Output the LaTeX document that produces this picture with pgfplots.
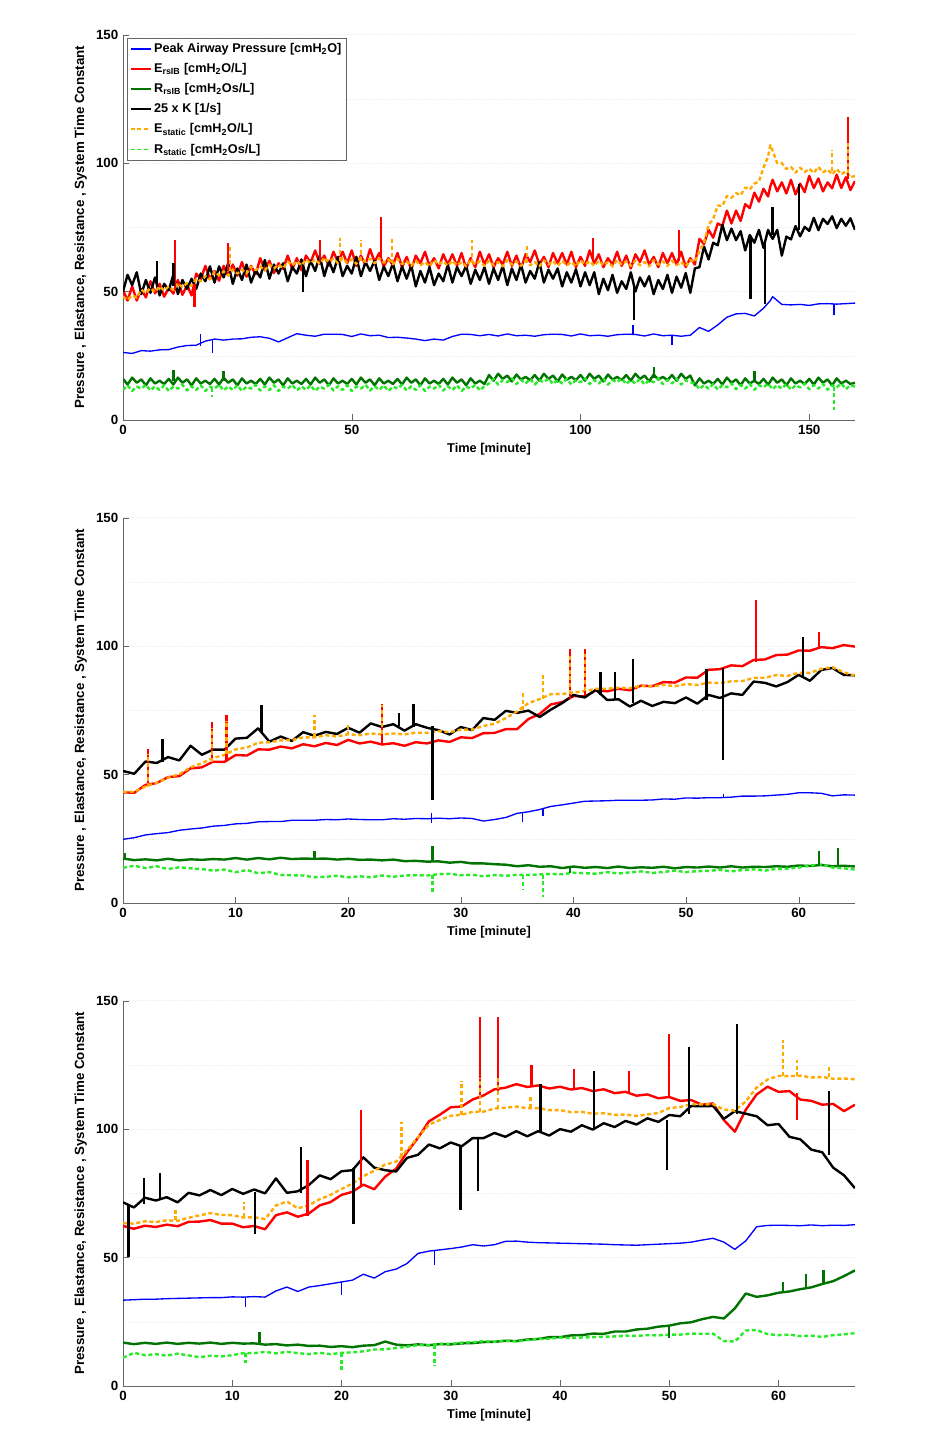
\documentclass[border=0pt]{standalone}
\usepackage{fontspec}
\setmainfont{Liberation Sans}
\usepackage{pgfplots}
\usepackage{pgfplotstable}
\pgfplotsset{compat=1.18}

\definecolor{pblue}{RGB}{0,0,255}
\definecolor{ered}{RGB}{255,0,0}
\definecolor{rgreen}{RGB}{0,115,0}
\definecolor{estor}{RGB}{255,170,0}
\definecolor{rsgreen}{RGB}{40,235,40}

% panel 1: peak airway pressure
\pgfplotstableread{
t P
0 26.3
2 25.9
4 27.0
6 26.8
8 27.3
10 27.4
12 28.4
14 29.0
16 29.1
18 30.7
20 31.5
22 31.1
24 31.5
26 31.6
28 32.2
30 32.4
32 31.8
34 30.4
36 32.0
38 33.6
40 33.0
42 32.6
44 33.4
46 33.4
48 33.3
50 32.5
52 33.5
54 32.8
56 33.0
58 32.1
60 32.2
62 31.9
64 31.5
66 30.9
68 31.5
70 31.1
72 32.5
74 33.4
76 33.3
78 32.8
80 33.3
82 32.7
84 33.5
86 32.8
88 33.0
90 32.6
92 33.2
94 33.4
96 33.3
98 32.7
100 33.5
102 32.8
104 33.0
106 32.6
108 33.2
110 33.4
112 33.3
114 32.7
116 33.5
118 32.8
120 33.0
122 32.6
124 33.0
126 36.0
128 34.5
130 37.0
132 40.0
134 41.3
136 41.5
138 40.5
140 43.5
141.5 46.5
142 48.0
144 45.0
146 44.8
148 45.0
150 44.6
152 45.2
154 45.3
156 45.1
158 45.3
160 45.5
}\dataAp

% panel 1: noisy series
\pgfplotstableread{
t E R K Es Rs
0 50.5 16 50 48 11.7
1 46.5 13.8 56.5 46.7 13.5
2 52 16.5 52.5 48.5 11.3
3 46.5 14.5 57.5 47.6 13
4 51 15.8 49 50.7 12.2
5 47.7 13.5 54.5 49.5 13.7
6 54 16.2 49.5 51.3 11.5
7 49.3 14.2 55.5 49.8 13.1
8 53 15.3 48.5 52 11.7
9 48 14 53 50.4 13.5
10 51.5 16 50.5 52 11.3
11 49.2 13.8 56.5 50.6 13
12 54.5 16.5 49 53.2 12.2
13 48.7 14.5 54.5 51.7 13.7
14 52.5 15.8 51 53.3 11.5
15 48.5 13.5 55 52.2 13.1
16 57 16.2 51 55 11.7
17 54.8 14.2 57 54 13.5
18 60 15.3 54 56 11.3
19 54.8 14 59.8 54.8 13
20 58 16 53.5 57.7 12.2
21 54.2 13.8 59.8 56.3 13.7
22 60 16.5 55.5 57.8 11.5
23 56.3 14.5 61 56.2 13.1
24 60.5 15.8 53 58.5 11.7
25 56.2 13.5 59 57 13.5
26 61.5 16.2 54.5 58.5 11.3
27 55.8 14.2 60.5 57 13
28 60 15.3 53.5 59.7 12.2
29 56.7 14 58.3 58.3 13.7
30 63 16 55.5 59.8 11.5
31 58.3 13.8 62.3 58.2 13.1
32 62 16.5 55 60.5 11.7
33 57.2 14.5 60.5 59 13.5
34 61 15.8 57 60.5 11.3
35 58.8 13.5 61 59 13
36 64 16.2 54 61.7 12.2
37 58.7 14.2 59.5 60.3 13.7
38 63 15.3 57 61.8 11.5
39 58.3 14 62.5 60.2 13.1
40 64 16 56 62.5 11.7
41 61.2 13.8 62 61 13.5
42 66 16.5 58 62.5 11.3
43 60.8 14.5 64 60.8 13
44 64 15.8 56 63.2 12.2
45 60 13.5 62 61.5 13.7
46 65.5 16.2 57.5 62.8 11.5
47 61.5 14.2 63.5 61 13.1
48 65.5 15.3 56 63 11.7
49 61 14 60 61.2 13.5
50 66 16 57 62.5 11.3
51 60 13.8 63.5 60.8 13
52 64 16.5 56 63.2 12.2
53 60.5 14.5 61.5 61.5 13.7
54 66.5 15.8 58 62.8 11.5
55 61.5 13.5 62 61 13.1
56 65 16.2 54.5 63 11.7
57 59.8 14.2 59.7 61.2 13.5
58 63 15.3 56 62.5 11.3
59 60.2 14 61 60.6 13
60 65 16 54 62.7 12.2
61 59.5 13.8 59.8 60.7 13.7
62 63.5 16.5 55 61.8 11.5
63 58.5 14.5 60.2 60 13.1
64 64 15.8 52 62 11.7
65 61 13.5 58 60.2 13.5
66 65.5 16.2 53.5 61.5 11.3
67 60 14.2 59.5 59.8 13
68 63 15.3 52.5 62.2 12.2
69 59 14 57 60.5 13.7
70 64.5 16 54 61.8 11.5
71 60.5 13.8 60.5 60 13.1
72 64.5 16.5 53.5 62 11.7
73 60 14.5 59.5 60.2 13.5
74 65 15.8 56 61.5 11.3
75 59 13.5 60 59.8 13
76 63 16.2 53 62.2 12.2
77 59.5 14.2 58.5 60.5 13.7
78 65.5 15.3 54.5 61.8 11.5
79 60.5 14 59.5 60 13.1
80 64.5 17.5 53 62 14.2
81 59.5 15.3 59 60.2 16
82 63 18 54.5 61.5 13.8
83 60.5 16 60 59.8 15.5
84 65.5 17.3 52.5 62.2 14.7
85 60 15 59 60.5 16.2
86 64 17.7 54.5 61.8 14
87 59 15.7 60.5 60 15.6
88 64.5 16.8 53.5 62 14.2
89 61.5 15.5 58 60.2 16
90 66 17.5 55 61.5 13.8
91 60.5 15.3 61.5 59.8 15.5
92 63.5 18 53.5 62.2 14.7
93 59.5 16 58.5 60.5 16.2
94 65 17.3 55 61.8 14
95 61 15 59 60 15.6
96 65 17.7 52 62 14.2
97 60.5 15.7 57.5 60.2 16
98 65.5 16.8 53.5 61.5 13.8
99 59.5 15.5 58.7 59.8 15.5
100 63.5 17.5 52 62.2 14.7
101 60 15.3 57.5 60.5 16.2
102 66 18 52.5 61.8 14
103 61 16 57.5 60 15.6
104 64.5 17.3 49 62 14.2
105 59.5 15 55 60.2 16
106 63 17.7 50.5 61.5 13.8
107 60.5 15.7 56.5 59.8 15.5
108 65.5 16.8 49.5 62.2 14.7
109 60 15.5 54 60.5 16.2
110 64 17.5 51 61.8 14
111 59 15.3 57.5 60 15.6
112 64.5 18 50 62 14.2
113 61.5 16 55.5 60.2 16
114 66 17.3 52 61.5 13.8
115 60.5 15 56 59.8 15.5
116 63.5 17.7 49 62.2 14.7
117 59.5 15.7 54.5 60.5 16.2
118 65 16.8 51 61.8 14
119 61 15.5 56.5 60 15.6
120 65 17.5 49.5 62 14.2
121 60.5 15.3 55.8 60.2 16
122 65.5 18 51.5 61.5 13.8
123 59.5 16 57.2 59.8 15.5
124 63 17.3 49.5 62.2 14.7
125 60.5 13.5 59 61.5 14.2
126 70.5 16.2 59.5 65.8 12
127 68.5 14.2 67.5 69 13.6
128 74 15.3 62.5 76 12.2
129 71 14 69 78.2 14
130 76.5 16 68 83.5 11.8
131 75.5 13.8 76 83.3 13.5
132 81.5 16.5 70 87.2 12.7
133 76.5 14.5 74.5 86.5 14.2
134 81.5 15.8 70 88.3 12
135 77.5 13.5 73.5 87.5 13.6
136 84 16.2 66 90.5 12.2
137 82.5 14.2 72 89.7 14
138 88.5 15.3 69 92 11.8
139 85 14 74 92.8 13.5
140 90 16 67 98.2 12.7
141 87 13.8 74 102.5 14.2
141.5 91 15 72 107 13
142 93.5 16.5 70.5 104.8 12
143 89 14.5 74 100 13.6
144 92.5 15.8 64 100 12.2
145 88.2 13.5 71.4 97.7 14
146 93.5 16.2 70.3 98.5 11.8
147 87.8 14.2 75.5 96.3 13.5
148 92 15.3 71.5 98.2 12.7
149 88.7 14 75.2 96.5 14.2
150 95 16 73.6 97.8 12
151 90.3 13.8 78.7 96.2 13.6
152 94 16.5 73.9 98.5 12.2
153 89 14.5 78.3 96.4 14
154 92.5 15.8 76.3 97.5 11.8
155 90.2 13.5 79.3 95.6 13.5
156 95.5 16.2 74.7 97.7 12.7
157 90.3 14.2 78.3 95.7 14.2
158 94.5 15.3 75.6 96.8 12
159 89.5 14 78.5 94.5 13.6
160 93 14.5 74 95 13
}\dataA

% panel 2
\pgfplotstableread{
t P E R K Es Rs
0 24.8 43.1 17.3 51.4 43.3 13.7
1 25.4 42.9 16.7 50.3 43.2 14.5
2 26.5 46.0 17.0 55.1 45.4 13.6
3 27.0 46.7 16.6 54.5 46.8 14.3
4 27.4 49.0 17.2 56.8 48.8 13.2
5 28.3 49.4 16.6 55.5 50.1 13.9
6 28.8 52.4 17.0 61.2 52.8 13.5
7 29.2 52.8 16.8 57.7 54.4 13.2
8 29.9 55.0 17.1 59.7 56.5 12.6
9 30.2 54.9 16.9 59.7 57.6 13.0
10 30.8 57.6 17.5 64.0 59.8 12.0
11 31.0 57.4 16.9 64.3 60.5 12.8
12 31.6 59.8 17.5 68.0 62.4 11.6
13 31.7 59.7 17.0 62.8 62.6 12.0
14 31.7 60.9 17.6 64.8 63.3 10.9
15 32.2 60.2 17.1 63.1 63.4 10.8
16 32.2 61.8 17.3 66.5 64.5 10.7
17 32.2 61.0 17.2 65.1 64.5 10.0
18 32.5 62.3 17.3 66.6 65.3 10.2
19 32.4 61.5 16.9 65.8 64.8 10.6
20 32.7 63.5 17.2 68.2 65.7 10.0
21 32.5 62.1 16.8 66.3 65.3 10.4
22 32.4 62.8 16.9 69.9 66.0 10.0
23 32.4 61.7 16.6 68.5 65.6 10.7
24 32.8 62.2 16.9 69.6 66.0 10.2
25 32.6 61.2 16.3 67.1 65.6 10.7
26 32.9 62.6 16.4 69.6 66.3 10.8
27 32.8 62.1 16.1 68.2 66.2 10.7
28 33.0 63.3 16.2 67.3 66.9 11.2
29 32.8 62.7 15.7 65.6 66.5 11.4
30 33.1 64.5 16.0 68.5 67.5 10.8
31 32.9 64.2 15.4 67.3 67.5 11.0
32 31.9 66.1 15.4 72.0 68.9 10.4
33 32.5 66.2 15.1 71.3 69.8 10.9
34 33.3 67.7 14.9 74.8 72.0 10.6
35 34.9 67.7 14.3 74.0 74.6 11.0
36 35.5 71.6 14.7 74.9 77.8 10.9
37 36.4 73.6 14.1 72.4 79.4 11.1
38 37.6 77.3 14.3 75.3 81.3 11.3
39 38.2 78.2 13.6 77.8 81.3 11.2
40 38.9 80.5 14.2 81.0 82.0 11.8
41 39.6 80.4 13.7 80.0 82.4 11.6
42 39.7 82.8 14.0 83.0 83.4 11.4
43 39.8 82.4 13.6 79.0 83.4 12.0
44 40.0 83.4 14.2 79.3 83.8 11.5
45 40.0 82.8 13.6 76.5 83.6 11.9
46 40.0 84.6 13.9 78.7 84.5 12.3
47 40.1 84.4 13.7 76.7 84.3 11.7
48 40.5 86.0 14.1 78.3 84.9 12.1
49 40.4 85.8 13.5 77.8 84.4 12.6
50 40.9 87.8 14.0 80.0 85.2 12.0
51 40.8 87.7 13.8 77.6 84.9 12.4
52 41.0 90.8 14.2 81.0 85.8 12.5
53 41.0 91.0 13.8 79.8 85.6 12.9
54 41.2 92.5 14.3 81.6 86.3 12.3
55 41.6 92.2 13.8 81.0 86.4 12.8
56 41.6 94.6 14.1 86.2 87.6 13.1
57 41.7 94.8 14.0 85.7 87.7 12.6
58 42.0 96.5 14.3 84.3 88.7 13.3
59 42.3 96.7 14.1 86.0 88.4 13.4
60 42.9 98.3 14.6 88.8 89.6 13.8
61 42.9 98.2 14.4 86.5 89.6 14.6
62 42.7 99.6 14.8 90.7 91.1 15.0
63 41.7 99.2 14.3 91.5 91.8 13.8
64 42.1 100.4 14.5 88.8 89.8 13.5
65 42.0 99.8 14.2 88.6 88.5 13.0
}\dataB

% panel 3
\pgfplotstableread{
t P E R K Es Rs
0 33.4 62.3 16.9 71.5 63.4 11.0
1 33.6 61.2 16.3 69.5 63.2 12.9
2 33.8 62.4 16.8 73.3 64.1 12.0
3 33.8 61.9 16.4 72.2 63.8 12.4
4 34.0 62.8 16.9 73.5 64.5 11.8
5 34.1 62.2 16.4 71.5 64.3 12.6
6 34.2 63.9 16.8 75.2 65.5 11.9
7 34.3 64.0 16.5 74.2 66.4 11.2
8 34.4 64.6 16.9 76.3 67.3 11.8
9 34.4 63.2 16.4 74.3 66.6 11.5
10 34.7 63.2 16.8 76.7 66.5 12.0
11 34.6 61.8 16.5 74.8 65.6 12.8
12 34.8 62.3 16.6 76.5 65.7 12.8
13 34.6 61.0 16.1 75.0 65.0 13.3
14 37.0 66.5 16.3 80.8 70.3 12.7
15 38.5 67.6 15.8 75.2 71.8 13.3
16 36.8 65.9 16.1 75.8 69.2 12.8
17 38.5 67.1 15.6 78.2 70.3 12.4
18 39.1 70.3 15.7 82.0 72.7 12.9
19 39.8 71.6 15.2 80.5 74.4 12.4
20 40.5 74.4 15.5 83.6 76.7 12.9
21 41.2 75.6 15.1 84.0 78.8 13.1
22 43.5 78.4 15.7 89.0 81.7 13.5
23 42.0 76.6 15.9 85.0 83.8 14.2
24 44.5 81.5 17.3 84.0 86.2 14.3
25 45.5 84.6 16.1 83.5 87.3 14.8
26 47.7 91.0 15.8 88.8 91.9 15.3
27 51.6 96.6 16.2 90.0 96.8 15.9
28 52.5 103.0 15.9 94.0 101.7 15.8
29 53.0 105.6 16.3 92.5 103.6 16.4
30 53.5 108.5 16.2 94.8 105.2 16.4
31 54.1 108.8 16.6 93.3 105.6 16.9
32 55.0 111.5 16.7 96.5 106.7 17.0
33 54.5 113.1 17.1 96.5 106.8 17.5
34 55.0 115.5 17.2 98.5 108.0 17.2
35 56.3 116.1 17.6 97.0 108.3 17.7
36 56.4 117.5 17.5 99.2 108.8 17.3
37 56.0 116.4 18.1 97.2 108.1 17.9
38 55.8 117.0 18.3 99.2 108.2 18.3
39 55.7 115.8 19.0 97.5 107.4 18.4
40 55.6 116.5 19.0 100.0 107.4 18.9
41 55.5 115.4 19.7 99.0 106.6 18.6
42 55.4 116.0 19.8 101.5 106.7 18.9
43 55.3 114.8 20.4 99.8 106.0 19.0
44 55.2 115.5 20.3 102.3 106.2 19.2
45 55.0 114.0 21.2 100.8 105.5 19.3
46 54.9 114.5 21.2 103.2 105.7 19.6
47 54.8 113.0 22.0 101.8 105.1 19.5
48 55.0 113.5 22.3 104.2 105.7 19.8
49 55.2 112.0 23.1 102.8 106.3 19.7
50 55.4 112.5 23.5 105.5 108.2 20.0
51 55.6 111.0 24.4 105.0 108.6 20.0
52 56.0 111.3 24.8 109.0 109.7 20.4
53 56.8 109.5 26.0 108.9 109.6 20.3
54 57.5 110.0 26.9 109.0 109.7 20.4
55 56.0 103.5 26.3 104.0 107.6 17.5
56 53.2 99.0 30.2 107.0 107.2 17.3
57 56.5 107.5 36.0 106.0 110.8 21.6
58 62.0 113.5 34.7 105.0 116.2 21.8
59 62.5 116.5 35.3 101.5 119.3 20.2
60 62.6 114.5 36.3 102.0 120.7 19.8
61 62.5 114.8 36.8 97.0 120.6 20.0
62 62.4 111.5 37.7 96.0 120.8 19.4
63 62.7 111.0 38.4 92.0 120.1 19.6
64 62.4 109.5 39.7 91.0 120.3 19.1
65 62.6 109.8 40.8 85.0 119.6 19.8
66 62.5 107.0 42.8 82.0 119.7 20.1
67 62.8 109.5 45.0 77.0 119.4 20.6
}\dataC

\pgfplotsset{
  pP/.style={color=pblue, line width=1pt},
  pE/.style={color=ered, line width=1.8pt},
  pR/.style={color=rgreen, line width=1.8pt},
  pK/.style={color=black, line width=1.8pt},
  pEs/.style={color=estor, line width=1.8pt, dash pattern=on 3pt off 2pt},
  pRs/.style={color=rsgreen, line width=1.8pt, dash pattern=on 3pt off 2pt},
  panel/.style={
    scale only axis, width=549pt, height=289pt,
    anchor=south west,
    axis lines*=left,
    axis line style={gray!80!black, line width=0.5pt},
    ymin=0, ymax=150, xmin=0,
    ytick={0,50,100,150},
    minor ytick={25,75,125},
    ymajorgrids, yminorgrids,
    major grid style={gray!22, dotted},
    minor grid style={gray!22, dotted},
    tick align=inside,
    major tick length=4.5pt,
    minor tick length=0pt,
    tick style={gray!80!black},
    /pgf/number format/assume math mode=true,
    ticklabel style={font=\bfseries\fontsize{10}{12}\selectfont, text=black},
    xlabel={Time [minute]},
    xlabel style={font=\bfseries\fontsize{9.6}{11}\selectfont},
    ylabel={Pressure , Elastance, Resistance , System Time Constant},
    ylabel style={font=\bfseries\fontsize{10}{12}\selectfont},
    every axis plot/.append style={line join=round},
    unbounded coords=jump,
  },
}

\begin{document}
\begin{tikzpicture}
\useasboundingbox (0,0) rectangle (708.75pt,1077pt);

% ---------------- panel 1
\begin{axis}[panel, at={(92.25pt,762pt)}, xmax=160, xtick={0,50,100,150},
  legend style={at={(0.005,0.992)}, anchor=north west, draw=gray!80!black, line width=0.4pt,
    fill=white, font=\bfseries\fontsize{9.5}{11}\selectfont, row sep=2.7pt,
    inner xsep=2pt, inner ysep=2pt},
  legend cell align=left,
  legend image code/.code={\draw[#1] (0pt,0pt) -- (15pt,0pt);},
  legend image post style={line width=1.4pt}]
\addplot[pP] table[x=t,y=P]{\dataAp};
\addlegendentry{Peak Airway Pressure [cmH\textsubscript{2}O]}
\addplot[pE] table[x=t,y=E]{\dataA};
\addlegendentry{E\textsubscript{rsIB} [cmH\textsubscript{2}O/L]}
\addplot[pR] table[x=t,y=R]{\dataA};
\addlegendentry{R\textsubscript{rsIB} [cmH\textsubscript{2}Os/L]}
\addplot[pK] table[x=t,y=K]{\dataA};
\addlegendentry{25 x K [1/s]}
\addplot[pEs] table[x=t,y=Es]{\dataA};
\addlegendentry{E\textsubscript{static} [cmH\textsubscript{2}O/L]}
\addplot[pRs] table[x=t,y=Rs]{\dataA};
\addlegendentry{R\textsubscript{static} [cmH\textsubscript{2}Os/L]}
% spikes
\addplot[pP, forget plot] coordinates {(17,28.9)(17,33.5)(17,nan) (19.5,31)(19.5,26)(19.5,nan) (111.5,33)(111.5,37)(111.5,nan) (120,33)(120,29)(120,nan) (155.4,45)(155.4,41)};
\addplot[pE, forget plot] coordinates {(11.4,51)(11.4,70)(11.4,nan) (15.6,53)(15.6,44)(15.6,nan) (23,58)(23,69)(23,nan) (43,62)(43,70)(43,nan) (56.4,63)(56.4,79)(56.4,nan) (102.7,62)(102.7,71)(102.7,nan) (121.5,62)(121.5,74)(121.5,nan) (158.5,94)(158.5,118)};
\addplot[pR, forget plot] coordinates {(11,15)(11,19.5)(11,nan) (22,15)(22,19)(22,nan) (116,16.5)(116,20.5)(116,nan) (138,15)(138,19)};
\addplot[pK, forget plot] coordinates {(7.4,53)(7.4,62)(7.4,nan) (11,52)(11,61)(11,nan) (39.3,59)(39.3,50)(39.3,nan) (111.7,53)(111.7,39)(111.7,nan) (137.2,71)(137.2,47)(137.2,nan) (140.3,70)(140.3,45)(140.3,nan) (142,72)(142,83)(142,nan) (147.8,74)(147.8,92)};
\addplot[pEs, forget plot] coordinates {(23.4,58)(23.4,68)(23.4,nan) (47.4,62)(47.4,71)(47.4,nan) (52,62)(52,70)(52,nan) (58.8,61)(58.8,71)(58.8,nan) (76.3,61)(76.3,70)(76.3,nan) (88.3,61)(88.3,68)(88.3,nan) (155,97)(155,105)(155,nan) (158.5,96)(158.5,108)};
\addplot[pRs, forget plot] coordinates {(19.5,12.5)(19.5,9)(19.5,nan) (155.4,13)(155.4,4)};
\end{axis}

% ---------------- panel 2
\begin{axis}[panel, at={(92.25pt,399.75pt)}, xmax=65, xtick={0,10,...,60}]
\addplot[pP] table[x=t,y=P]{\dataB};
\addplot[pE] table[x=t,y=E]{\dataB};
\addplot[pR] table[x=t,y=R]{\dataB};
\addplot[pK] table[x=t,y=K]{\dataB};
\addplot[pEs] table[x=t,y=Es]{\dataB};
\addplot[pRs] table[x=t,y=Rs]{\dataB};
\addplot[pP] coordinates {(27.4,35)(27.4,31)(27.4,nan) (35.5,35)(35.5,31.6)(35.5,nan) (37.3,36.5)(37.3,34)(37.3,nan) (53.3,41.1)(53.3,42.6)};
\addplot[pE] coordinates {(2.2,45.5)(2.2,60)(2.2,nan) (7.9,54.5)(7.9,70.5)(7.9,nan) (9.2,55.8)(9.2,73)(9.2,nan) (23,62)(23,77.6)(23,nan) (39.7,79.5)(39.7,99)(39.7,nan) (41,81)(41,99)(41,nan) (56.2,94)(56.2,117.8)(56.2,nan) (61.8,98.8)(61.8,105.4)};
\addplot[pR] coordinates {(0.2,17)(0.2,19.3)(0.2,nan) (17,17.2)(17,20.2)(17,nan) (27.5,16.1)(27.5,22)(27.5,nan) (39.7,14)(39.7,11.5)(39.7,nan) (61.8,14.5)(61.8,20.2)(61.8,nan) (63.5,14.3)(63.5,21.6)};
\addplot[pK] coordinates {(3.5,55)(3.5,64)(3.5,nan) (12.3,66)(12.3,77)(12.3,nan) (24.5,69)(24.5,74)(24.5,nan) (25.8,68.5)(25.8,77.6)(25.8,nan) (27.5,69)(27.5,40)(27.5,nan) (42.4,81)(42.4,90)(42.4,nan) (43.7,79)(43.7,90)(43.7,nan) (45.3,78)(45.3,94.8)(45.3,nan) (51.8,79)(51.8,91)(51.8,nan) (53.3,91.6)(53.3,55.6)(53.3,nan) (60.4,88)(60.4,103.6)};
\addplot[pEs] coordinates {(2.2,45)(2.2,58)(2.2,nan) (7.9,55)(7.9,68)(7.9,nan) (9.2,58)(9.2,71)(9.2,nan) (17,64.6)(17,73)(17,nan) (20,65.3)(20,69.5)(20,nan) (23,65.8)(23,77)(23,nan) (35.5,75)(35.5,82.7)(35.5,nan) (37.3,79.5)(37.3,88.7)(37.3,nan) (39.7,81.5)(39.7,97)(39.7,nan) (41,82.7)(41,97)};
\addplot[pRs] coordinates {(27.5,11)(27.5,3.8)(27.5,nan) (35.5,10.8)(35.5,5.3)(35.5,nan) (37.3,11)(37.3,2.5)};
\end{axis}

% ---------------- panel 3
\begin{axis}[panel, at={(92.25pt,37.5pt)}, xmax=67, xtick={0,10,...,60}]
\addplot[pP] table[x=t,y=P]{\dataC};
\addplot[pE] table[x=t,y=E]{\dataC};
\addplot[pR] table[x=t,y=R]{\dataC};
\addplot[pK] table[x=t,y=K]{\dataC};
\addplot[pEs] table[x=t,y=Es]{\dataC};
\addplot[pRs] table[x=t,y=Rs]{\dataC};
\addplot[pP] coordinates {(11.2,34.7)(11.2,30.8)(11.2,nan) (20,40.5)(20,35.3)(20,nan) (28.5,52.8)(28.5,47)};
\addplot[pE] coordinates {(16.9,66)(16.9,87.8)(16.9,nan) (21.8,77.5)(21.8,107.3)(21.8,nan) (32.7,112)(32.7,143.5)(32.7,nan) (34.3,115)(34.3,143.5)(34.3,nan) (37.4,116.5)(37.4,124.8)(37.4,nan) (41.3,115.6)(41.3,123.5)(41.3,nan) (46.3,114)(46.3,122.8)(46.3,nan) (50,112.5)(50,137)(50,nan) (61.7,114)(61.7,103.4)};
\addplot[pR] coordinates {(12.5,16.6)(12.5,21.1)(12.5,nan) (50,23.5)(50,18.6)(50,nan) (60.4,36.3)(60.4,40.5)(60.4,nan) (62.5,38)(62.5,43.5)(62.5,nan) (64.1,40)(64.1,45)};
\addplot[pK] coordinates {(0.5,71)(0.5,50.2)(0.5,nan) (1.9,71)(1.9,81)(1.9,nan) (3.4,73)(3.4,83)(3.4,nan) (12.1,75.5)(12.1,59.2)(12.1,nan) (16.3,75)(16.3,93)(16.3,nan) (21.1,85)(21.1,63.2)(21.1,nan) (30.9,94)(30.9,68.4)(30.9,nan) (32.5,96)(32.5,76.1)(32.5,nan) (38.2,98.5)(38.2,117.7)(38.2,nan) (43.1,100.5)(43.1,122.8)(43.1,nan) (49.8,103.5)(49.8,84)(49.8,nan) (51.8,106)(51.8,131.9)(51.8,nan) (56.2,106)(56.2,141)(56.2,nan) (64.6,90)(64.6,115)};
\addplot[pEs] coordinates {(4.8,64.5)(4.8,68.4)(4.8,nan) (11.1,65.8)(11.1,71.6)(11.1,nan) (25.5,89)(25.5,102.7)(25.5,nan) (31,105.5)(31,118.8)(31,nan) (32.7,106.7)(32.7,120)(32.7,nan) (34.3,108)(34.3,120)(34.3,nan) (37.3,108.3)(37.3,113)(37.3,nan) (60.4,120.7)(60.4,134.5)(60.4,nan) (61.7,120.5)(61.7,127)(61.7,nan) (64.6,120.1)(64.6,125)};
\addplot[pRs] coordinates {(11.2,12.8)(11.2,8.8)(11.2,nan) (20,12.9)(20,6.3)(20,nan) (28.5,15.8)(28.5,7.6)};
\end{axis}
\end{tikzpicture}
\end{document}
